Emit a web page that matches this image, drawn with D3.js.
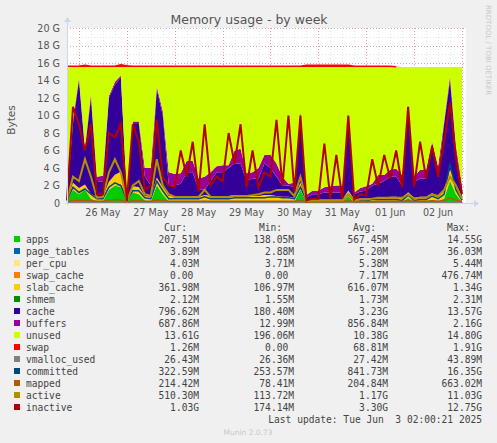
<!DOCTYPE html>
<html>
<head>
<meta charset="UTF-8">
<script src="https://cdnjs.cloudflare.com/ajax/libs/d3/7.8.5/d3.min.js"></script>
<style>
  body { margin: 0; background: #f0f0f0; }
  svg text { font-family: "DejaVu Sans", sans-serif; fill: #555; }
  .mono { font-family: "DejaVu Sans Mono", monospace; font-size: 9.6px; fill: #444; }
</style>
</head>
<body>
<svg id="chart" width="497" height="443"></svg>
<script>
// values in G, one point every 3 hours from 25 May 18:00 UTC
const startTime = Date.UTC(2025, 4, 25, 18);
const stepHours = 3;
const memTotal = 15.55;

const apps = [0.2,1.5,1.0,1.5,0.5,0.2,0.2,1.5,2.0,1.8,0.15,1.2,1.0,0.3,0.2,2.0,1.0,0.2,0.2,0.2,0.2,0.2,0.2,0.3,0.2,0.2,0.2,0.2,0.2,0.2,0.2,0.2,0.2,0.2,0.2,0.2,0.2,0.2,0.2,1.5,0.1,0.1,0.1,0.1,0.1,0.1,0.1,0.8,0.1,0.1,0.1,0.1,0.1,0.1,0.1,0.1,0.1,0.6,0.1,0.1,0.1,0.4,0.2,0.5,2.5,1.0,0.1];
const pageTables = [0.004,0.01,0.01,0.01,0.01,0.004,0.004,0.01,0.01,0.01,0.004,0.01,0.01,0.005,0.005,0.01,0.01,0.005,0.005,0.005,0.005,0.005,0.005,0.005,0.005,0.005,0.005,0.005,0.005,0.005,0.005,0.005,0.005,0.005,0.005,0.005,0.005,0.005,0.005,0.01,0.004,0.004,0.004,0.004,0.004,0.004,0.004,0.01,0.004,0.004,0.004,0.004,0.004,0.004,0.004,0.004,0.004,0.01,0.004,0.004,0.004,0.005,0.004,0.006,0.03,0.01,0.004];
const perCpu = [0.005,0.005,0.005,0.005,0.005,0.005,0.005,0.005,0.005,0.005,0.005,0.005,0.005,0.005,0.005,0.005,0.005,0.005,0.005,0.005,0.005,0.005,0.005,0.005,0.005,0.005,0.005,0.005,0.005,0.005,0.005,0.005,0.005,0.005,0.005,0.005,0.005,0.005,0.005,0.005,0.004,0.004,0.004,0.004,0.004,0.004,0.004,0.004,0.004,0.004,0.004,0.004,0.004,0.004,0.004,0.004,0.004,0.004,0.004,0.004,0.004,0.004,0.004,0.004,0.004,0.004,0.004];
const swapCache = [0,0,0,0,0,0,0,0,0,0.45,0,0.1,0,0,0,0,0,0,0,0,0,0,0,0,0,0,0,0,0,0,0,0,0,0,0,0,0,0,0,0,0,0,0,0,0,0,0,0,0,0,0,0,0,0,0,0,0,0,0,0,0,0,0,0,0,0,0];
const slabCache = [0.2,0.8,0.7,0.6,0.5,0.5,0.5,0.9,1.2,1.3,0.2,0.6,0.8,0.5,0.5,0.9,0.8,0.6,0.6,0.6,0.6,0.6,0.5,0.6,0.6,0.6,0.6,0.6,0.7,0.7,0.6,0.6,0.6,0.7,0.7,0.6,0.5,0.5,0.4,0.8,0.2,0.3,0.3,0.3,0.3,0.3,0.3,0.6,0.3,0.4,0.4,0.4,0.5,0.5,0.6,0.6,0.5,0.6,0.5,0.6,0.6,0.7,0.6,0.9,1.3,0.9,0.36];
const shmem = [0.002,0.002,0.002,0.002,0.002,0.002,0.002,0.002,0.002,0.002,0.002,0.002,0.002,0.002,0.002,0.002,0.002,0.002,0.002,0.002,0.002,0.002,0.002,0.002,0.002,0.002,0.002,0.002,0.002,0.002,0.002,0.002,0.002,0.002,0.002,0.002,0.002,0.002,0.002,0.002,0.002,0.002,0.002,0.002,0.002,0.002,0.002,0.002,0.002,0.002,0.002,0.002,0.002,0.002,0.002,0.002,0.002,0.002,0.002,0.002,0.002,0.002,0.002,0.002,0.002,0.002,0.002];
const cache = [0.4,6.7,12.3,3.9,11.0,1.8,1.7,9.6,10.3,10.8,0.45,7.1,7.2,2.2,1.3,10.1,8.2,1.2,1.2,1.4,2.7,2.7,0.8,0.6,1.7,2.7,2.7,3.2,3.6,3.6,1.7,2.0,2.0,3.6,3.1,2.2,1.3,1.3,1.2,7.7,0.3,0.6,0.6,0.8,0.8,0.8,0.8,8.6,0.6,0.8,0.9,1.5,1.6,1.9,2.3,2.3,1.4,9.8,1.8,2.1,2.1,5.4,2.2,7.6,10.2,4.1,0.8];
const buffers = [0.1,0.5,0.3,0.3,0.5,0.5,0.7,0.2,0.3,0.2,0.1,0.3,0.3,1.0,2.0,0.3,0.5,1.5,1.3,1.2,1.3,1.3,1.3,1.5,1.0,0.7,0.8,0.3,1.5,1.7,0.9,0.7,1.2,1.0,1.5,1.5,1.0,0.2,0.5,0.5,0.3,0.4,0.4,0.6,0.7,0.8,0.8,0.2,0.2,0.4,0.5,0.2,1.0,0.7,0.8,0.9,1.2,0.3,0.6,1.0,1.0,0.5,1.2,0.3,0.5,0.5,0.69];
const swap = [0.08,0.08,0.08,0.2,0.08,0.08,0.08,0.08,0.08,0.25,0.15,0.08,0.08,0.08,0.08,0.08,0.08,0.08,0.08,0.08,0.08,0.08,0.08,0.08,0.08,0.08,0.08,0.08,0.08,0.08,0.08,0.08,0.08,0.08,0.08,0.08,0.08,0.08,0.08,0.08,0.2,0.2,0.2,0.2,0.2,0.2,0.2,0.2,0.08,0.08,0.08,0.08,0.08,0.08,0.08,0.03,0,0,0,0,0,0,0,0,0,0,0];
const vmallocUsed = [0.027,0.03,0.03,0.03,0.03,0.027,0.027,0.03,0.04,0.04,0.026,0.03,0.03,0.027,0.027,0.03,0.03,0.027,0.027,0.027,0.027,0.027,0.027,0.027,0.027,0.027,0.027,0.027,0.027,0.027,0.027,0.027,0.027,0.027,0.027,0.027,0.027,0.027,0.027,0.03,0.026,0.026,0.026,0.026,0.026,0.026,0.026,0.03,0.026,0.026,0.026,0.026,0.026,0.026,0.026,0.026,0.026,0.03,0.026,0.026,0.026,0.027,0.027,0.028,0.04,0.03,0.026];
const committed = [0.3,1.8,1.2,1.6,1.0,0.5,0.5,1.8,2.3,2.0,0.3,1.4,1.4,0.6,0.5,2.5,1.4,0.5,0.5,0.5,0.5,0.5,0.5,0.7,0.5,0.5,0.5,0.5,0.6,0.6,0.6,0.6,0.6,0.6,0.7,0.7,0.6,0.6,0.5,1.8,0.3,0.3,0.3,0.3,0.3,0.3,0.3,1.0,0.3,0.3,0.3,0.4,0.4,0.4,0.4,0.4,0.3,0.9,0.3,0.4,0.4,0.8,0.5,1.0,4.5,1.5,0.32];
const mapped = [0.15,0.3,0.3,0.3,0.25,0.2,0.2,0.3,0.4,0.35,0.1,0.25,0.25,0.2,0.2,0.35,0.3,0.2,0.2,0.2,0.2,0.2,0.2,0.2,0.2,0.2,0.2,0.2,0.2,0.2,0.2,0.2,0.2,0.2,0.2,0.2,0.2,0.2,0.2,0.3,0.1,0.15,0.15,0.15,0.15,0.15,0.15,0.25,0.15,0.15,0.15,0.15,0.2,0.2,0.2,0.2,0.2,0.25,0.2,0.2,0.2,0.25,0.2,0.3,0.6,0.3,0.21];
const active = [0.3,3.0,2.5,5.0,3.0,0.6,0.7,3.5,5.0,3.5,0.2,2.0,2.5,1.0,0.8,5.0,2.0,1.0,0.7,0.7,0.7,0.7,0.7,1.5,0.7,0.7,0.7,0.7,0.8,0.8,0.8,0.9,1.0,1.2,1.2,1.5,1.5,1.5,0.8,3.0,0.3,0.3,0.3,0.3,0.3,0.3,0.3,1.0,0.3,0.4,0.4,0.5,0.6,0.6,0.6,0.6,0.6,1.0,0.5,0.6,0.6,1.0,0.8,1.5,3.0,2.0,0.51];
const inactive = [0.3,11.0,9.0,6.0,9.0,1.0,1.0,8.0,7.5,9.0,0.2,9.0,7.0,1.5,2.0,9.5,3.0,2.0,1.8,6.0,3.0,7.0,1.3,9.0,2.0,3.0,2.5,8.0,4.5,9.0,1.8,6.0,1.8,3.5,3.0,9.5,2.0,10.0,1.3,10.0,0.3,0.5,0.5,6.8,0.5,5.5,0.5,10.0,0.4,1.0,0.9,5.0,1.9,5.5,2.8,6.0,1.8,11.0,1.9,7.0,2.8,6.5,3.0,7.0,11.5,5.0,1.03];

const areaSeries = [
  { name: "apps", color: "#00cc00", values: apps },
  { name: "page_tables", color: "#0066b3", values: pageTables },
  { name: "per_cpu", color: "#ffe680", values: perCpu },
  { name: "swap_cache", color: "#ff8000", values: swapCache },
  { name: "slab_cache", color: "#ffcc00", values: slabCache },
  { name: "shmem", color: "#008f00", values: shmem },
  { name: "cache", color: "#330099", values: cache },
  { name: "buffers", color: "#990099", values: buffers },
  { name: "unused", color: "#ccff00", values: null },
  { name: "swap", color: "#ff0000", values: swap }
];
const lineSeries = [
  { name: "vmalloc_used", color: "#808080", values: vmallocUsed },
  { name: "committed", color: "#00487d", values: committed },
  { name: "mapped", color: "#b35a00", values: mapped },
  { name: "active", color: "#b38f00", values: active },
  { name: "inactive", color: "#b30000", values: inactive }
];
const legendOrder = ["apps","page_tables","per_cpu","swap_cache","slab_cache","shmem","cache","buffers","unused","swap","vmalloc_used","committed","mapped","active","inactive"];
const legendStats = {
  apps: ["207.51M","138.05M","567.45M","14.55G"],
  page_tables: ["3.89M","2.88M","5.20M","36.03M"],
  per_cpu: ["4.03M","3.71M","5.38M","5.44M"],
  swap_cache: ["0.00 ","0.00 ","7.17M","476.74M"],
  slab_cache: ["361.98M","106.97M","616.07M","1.34G"],
  shmem: ["2.12M","1.55M","1.73M","2.31M"],
  cache: ["796.62M","180.40M","3.23G","13.57G"],
  buffers: ["687.86M","12.99M","856.84M","2.16G"],
  unused: ["13.61G","196.06M","10.38G","14.80G"],
  swap: ["1.26M","0.00 ","68.81M","1.91G"],
  vmalloc_used: ["26.43M","26.36M","27.42M","43.89M"],
  committed: ["322.59M","253.57M","841.73M","16.35G"],
  mapped: ["214.42M","78.41M","204.84M","663.02M"],
  active: ["510.30M","113.72M","1.17G","11.03G"],
  inactive: ["1.03G","174.14M","3.30G","12.75G"]
};
const dayLabels = ["26 May","27 May","28 May","29 May","30 May","31 May","01 Jun","02 Jun"];
const yTicks = [0,2,4,6,8,10,12,14,16,18,20];

const svg = d3.select("#chart");
const pL = 67, pR = 466, pT = 28, pB = 203;
const n = apps.length;
const times = d3.range(n).map(i => new Date(startTime + i * stepHours * 3600e3));
const x = d3.scaleUtc().domain([new Date(startTime), new Date(startTime + 200 * 3600e3)]).range([pL, pR]);
const y = d3.scaleLinear().domain([0, 20]).range([pB, pT]);

// rows for the stack
const rows = times.map((t, i) => {
  const r = { t };
  let used = 0;
  areaSeries.forEach(s => {
    if (s.values) { r[s.name] = s.values[i]; if (s.name !== "swap") used += s.values[i]; }
  });
  r.unused = Math.max(0, memTotal - used);
  return r;
});
const stack = d3.stack().keys(areaSeries.map(s => s.name))(rows);

svg.append("rect").attr("x", pL).attr("y", pT).attr("width", pR - pL).attr("height", pB - pT).attr("fill", "#fff");

// grid
const g = svg.append("g");
const minorY = d3.range(0, 20.01, 1);
g.selectAll(".ym").data(minorY).join("line")
  .attr("x1", pL).attr("x2", pR).attr("y1", d => Math.round(y(d)) + 0.5).attr("y2", d => Math.round(y(d)) + 0.5)
  .attr("stroke", d => d % 2 === 0 ? "#e0a0a0" : "#e4e4e4").attr("stroke-dasharray", "1,2");
const hours6 = d3.utcHour.every(6).range(x.domain()[0], x.domain()[1]);
g.selectAll(".xm").data(hours6).join("line")
  .attr("x1", d => Math.round(x(d)) + 0.5).attr("x2", d => Math.round(x(d)) + 0.5).attr("y1", pT).attr("y2", pB)
  .attr("stroke", d => d.getUTCHours() === 0 ? "#e0a0a0" : "#e4e4e4").attr("stroke-dasharray", "1,2");

const area = d3.area().x((d, i) => x(times[i])).y0(d => y(d[0])).y1(d => y(d[1]));
svg.append("g").selectAll("path").data(stack).join("path")
  .attr("d", area).attr("fill", (d, i) => areaSeries[i].color);
// swap drawn as a thick edge on top of the stack
const swapLayer = stack[stack.length - 1];
const swapIdx = d3.range(n).filter(i => swap[i] > 0);
svg.append("path")
  .attr("d", d3.line().x(i => x(times[i])).y(i => y(swapLayer[i][1]))(swapIdx))
  .attr("fill", "none").attr("stroke", "#ff0000").attr("stroke-width", 1.5);

const line = d3.line().x((d, i) => x(times[i])).y(d => y(d));
svg.append("g").selectAll("path").data(lineSeries).join("path")
  .attr("d", d => line(d.values)).attr("fill", "none").attr("stroke", d => d.color)
  .attr("stroke-width", d => d.name === "inactive" || d.name === "active" ? 2 : 1.5);

// axes
svg.append("line").attr("x1", pL - 2).attr("x2", pR + 8).attr("y1", pB + 0.5).attr("y2", pB + 0.5).attr("stroke", "#ccd6f0");
svg.append("line").attr("x1", pL + 0.5).attr("x2", pL + 0.5).attr("y1", pB + 2).attr("y2", pT - 6).attr("stroke", "#ccd6f0");
svg.append("path").attr("d", `M${pR + 8},${pB - 3}L${pR + 13},${pB + 0.5}L${pR + 8},${pB + 4}Z`).attr("fill", "#ccd6f0");
svg.append("path").attr("d", `M${pL - 3},${pT - 6}L${pL + 0.5},${pT - 11}L${pL + 4},${pT - 6}Z`).attr("fill", "#ccd6f0");

svg.append("g").selectAll("text").data(yTicks).join("text")
  .attr("x", 60).attr("y", d => y(d) + 3.5).attr("text-anchor", "end").attr("font-size", 9.6)
  .text(d => d === 0 ? "0" : d + " G");
const noons = dayLabels.map((l, i) => ({ l, t: new Date(Date.UTC(2025, 4, 26 + i, 12)) }));
svg.append("g").selectAll("text").data(noons).join("text")
  .attr("x", d => x(d.t)).attr("y", 216).attr("text-anchor", "middle").attr("font-size", 9.6).text(d => d.l);

svg.append("text").attr("x", 249).attr("y", 24).attr("text-anchor", "middle").attr("font-size", 12.5).text("Memory usage - by week");
svg.append("text").attr("transform", "translate(15,120) rotate(-90)").attr("text-anchor", "middle").attr("font-size", 10.5).text("Bytes");
svg.append("text").attr("transform", "translate(486,5) rotate(90)").attr("font-size", 7).style("fill", "#c8c8c8").text("RRDTOOL / TOBI OETIKER");

// legend
const cols = [199, 294, 388, 482];
["Cur:", "Min:", "Avg:", "Max:"].forEach((h, i) => {
  svg.append("text").attr("class", "mono").attr("x", cols[i] - 12).attr("y", 231).attr("text-anchor", "end").text(h);
});
const allSeries = areaSeries.concat(lineSeries);
legendOrder.forEach((name, i) => {
  const s = allSeries.find(d => d.name === name);
  const yy = 243 + i * 12;
  svg.append("rect").attr("x", 14).attr("y", yy - 7).attr("width", 6).attr("height", 6).attr("fill", s.color);
  svg.append("text").attr("class", "mono").attr("x", 26).attr("y", yy).text(name);
  legendStats[name].forEach((v, j) => {
    svg.append("text").attr("class", "mono").attr("x", cols[j]).attr("y", yy).attr("text-anchor", "end").style("white-space", "pre").text(v);
  });
});
svg.append("text").attr("class", "mono").attr("x", 482).attr("y", 423).attr("text-anchor", "end").style("white-space", "pre").text("Last update: Tue Jun  3 02:00:21 2025");
svg.append("text").attr("x", 248).attr("y", 435).attr("text-anchor", "middle").attr("font-size", 7.5).style("fill", "#c8c8c8").text("Munin 2.0.73");
</script>
</body>
</html>
